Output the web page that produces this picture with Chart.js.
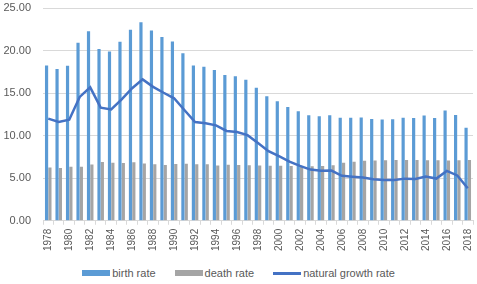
<!DOCTYPE html>
<html>
<head>
<meta charset="utf-8">
<script src="https://cdn.jsdelivr.net/npm/chart.js@4.4.1/dist/chart.umd.min.js"></script>
<style>
  html, body { margin: 0; padding: 0; background: #fff; }
  #wrap { width: 477px; height: 262px; }
  #legend { display: flex; justify-content: center; gap: 19px; height: 22px; align-items: center;
            font: 11px "Liberation Sans", sans-serif; color: #595959; margin-left: 0px; }
  #legend span.item { display: flex; align-items: center; }
  #legend i { display: inline-block; width: 28px; margin-right: 2px; }
</style>
</head>
<body>
<div id="wrap"><canvas id="rates"></canvas></div>
<div id="legend"></div>
<script>
// years 1978 - 2018
var years = [];
for (var y = 1978; y <= 2018; y++) years.push(String(y));

var birthRate = [18.25, 17.82, 18.21, 20.91, 22.28, 20.19, 19.90, 21.04, 22.43, 23.33,
    22.37, 21.58, 21.06, 19.68, 18.24, 18.09, 17.70, 17.12, 16.98, 16.57,
    15.64, 14.64, 14.03, 13.38, 12.86, 12.41, 12.29, 12.40, 12.09, 12.10,
    12.14, 11.95, 11.90, 11.93, 12.10, 12.08, 12.37, 12.07, 12.95, 12.43, 10.94];

var deathRate = [6.25, 6.21, 6.34, 6.36, 6.60, 6.90, 6.82, 6.78, 6.86, 6.72,
    6.64, 6.54, 6.67, 6.70, 6.64, 6.64, 6.49, 6.57, 6.56, 6.51,
    6.50, 6.46, 6.45, 6.43, 6.41, 6.40, 6.42, 6.51, 6.81, 6.93,
    7.06, 7.08, 7.11, 7.14, 7.13, 7.13, 7.12, 7.11, 7.09, 7.11, 7.13];

var growthRate = [12.00, 11.61, 11.87, 14.55, 15.68, 13.29, 13.08, 14.26, 15.57, 16.61,
    15.73, 15.04, 14.39, 12.98, 11.60, 11.45, 11.21, 10.55, 10.42, 10.06,
    9.14, 8.18, 7.58, 6.95, 6.45, 6.01, 5.87, 5.89, 5.28, 5.17,
    5.08, 4.87, 4.79, 4.79, 4.95, 4.92, 5.21, 4.96, 5.86, 5.32, 3.81];

var textColor = "#595959";

var ctx = document.getElementById("rates").getContext("2d");
var chart = new Chart(ctx, {
    type: "bar",
    data: {
        labels: years,
        datasets: [{
                type: "line",
                label: "natural growth rate",
                data: growthRate,
                borderColor: "#4472C4",
                backgroundColor: "#4472C4",
                borderWidth: 2.5,
                pointRadius: 0,
                tension: 0,
                order: 0
            },
            {
                label: "birth rate",
                data: birthRate,
                backgroundColor: "#5B9BD5",
                categoryPercentage: 0.64,
                barPercentage: 0.95,
                order: 1
            },
            {
                label: "death rate",
                data: deathRate,
                backgroundColor: "#A5A5A5",
                categoryPercentage: 0.64,
                barPercentage: 0.95,
                order: 1
            }
        ]
    },
    options: {
        responsive: true,
        maintainAspectRatio: false,
        animation: false,
        layout: { padding: { top: 8, right: 4, left: 0, bottom: 7 } },
        plugins: {
            tooltip: { enabled: false },
            legend: { display: false }
        },
        scales: {
            x: {
                afterFit: function (scale) {
                    scale.paddingRight = 0;
                    scale.paddingLeft = 0;
                },
                grid: {
                    display: true,
                    drawOnChartArea: false,
                    offset: true,
                    tickLength: 4,
                    color: "#D9D9D9"
                },
                border: { color: "#D9D9D9" },
                ticks: {
                    autoSkip: false,
                    minRotation: 90,
                    maxRotation: 90,
                    padding: 4,
                    color: textColor,
                    font: { family: "Liberation Sans", size: 10 },
                    callback: function (v, i) {
                        return i % 2 === 0 ? years[i] : "";
                    }
                }
            },
            y: {
                min: 0,
                max: 25,
                afterFit: function (scale) {
                    scale.paddingTop = 0;
                    scale.width = 43;
                },
                ticks: {
                    stepSize: 5,
                    color: textColor,
                    padding: 12,
                    font: { family: "Liberation Sans", size: 11 },
                    callback: function (v) { return v.toFixed(2); }
                },
                grid: { color: "#D9D9D9", drawTicks: false },
                border: { display: false }
            }
        }
    }
});

// legend in Excel order: bars first, then the line
var legendOrder = [1, 2, 0];
var legendBox = document.getElementById("legend");
legendOrder.forEach(function (i) {
    var ds = chart.data.datasets[i];
    var item = document.createElement("span");
    item.className = "item";
    var swatch = document.createElement("i");
    swatch.style.background = ds.backgroundColor;
    swatch.style.height = ds.type === "line" ? "3px" : "6px";
    item.appendChild(swatch);
    item.appendChild(document.createTextNode(ds.label));
    legendBox.appendChild(item);
});
</script>
</body>
</html>
